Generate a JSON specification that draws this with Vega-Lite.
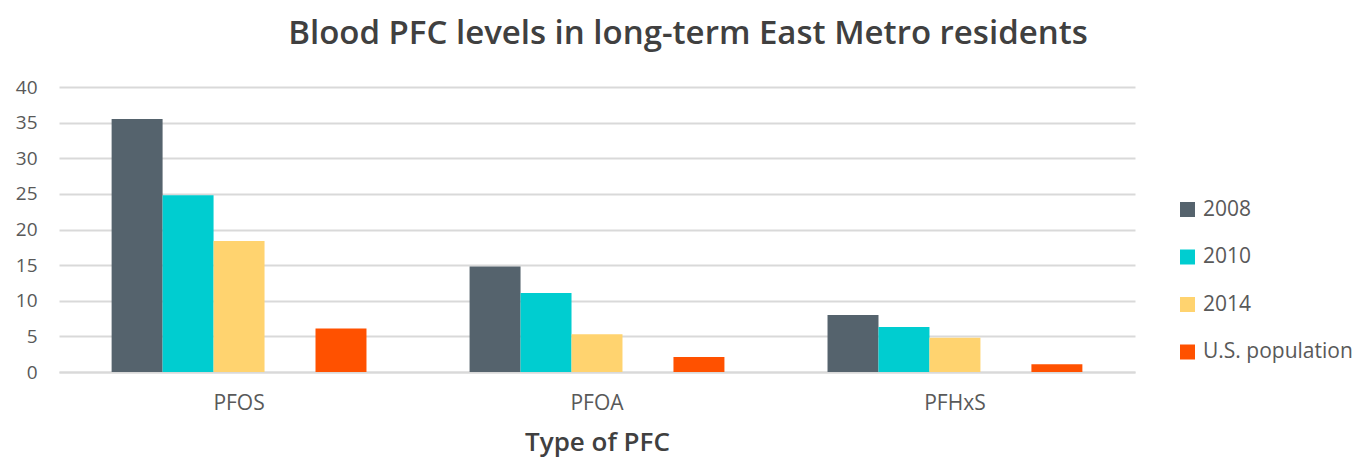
{
  "$schema": "https://vega.github.io/schema/vega-lite/v6.json",
  "autosize": {"type": "none"},
  "width": 1076,
  "height": 285,
  "padding": {"left": 59, "top": 87, "right": 221, "bottom": 85},
  "background": "#ffffff",
  "title": {
    "text": "Blood PFC levels in long-term East Metro residents",
    "anchor": "middle",
    "frame": "group",
    "dx": 91,
    "baseline": "alphabetic",
    "offset": 1,
    "font": "Open Sans",
    "fontSize": 33,
    "fontWeight": 600,
    "color": "#404040"
  },
  "data": {
    "values": [
      {"pfc": "PFOS", "group": "2008", "value": 35.5},
      {"pfc": "PFOS", "group": "2010", "value": 24.8},
      {"pfc": "PFOS", "group": "2014", "value": 18.4},
      {"pfc": "PFOS", "group": "U.S. population", "value": 6.1},
      {"pfc": "PFOA", "group": "2008", "value": 14.8},
      {"pfc": "PFOA", "group": "2010", "value": 11.1},
      {"pfc": "PFOA", "group": "2014", "value": 5.3},
      {"pfc": "PFOA", "group": "U.S. population", "value": 2.1},
      {"pfc": "PFHxS", "group": "2008", "value": 8.0},
      {"pfc": "PFHxS", "group": "2010", "value": 6.3},
      {"pfc": "PFHxS", "group": "2014", "value": 4.8},
      {"pfc": "PFHxS", "group": "U.S. population", "value": 1.1}
    ]
  },
  "mark": {"type": "bar"},
  "encoding": {
    "x": {
      "field": "pfc",
      "type": "nominal",
      "sort": ["PFOS", "PFOA", "PFHxS"],
      "scale": {"paddingInner": 0.288, "paddingOuter": 0.147},
      "axis": {
        "title": "Type of PFC",
        "labelAngle": 0,
        "labelFont": "Open Sans",
        "labelFontSize": 21,
        "labelColor": "#595959",
        "labelPadding": 20,
        "titleFont": "Open Sans",
        "titleFontSize": 26,
        "titleFontWeight": 600,
        "titleColor": "#404040",
        "titlePadding": 16,
        "domain": true,
        "domainColor": "#d9d9d9",
        "domainWidth": 2,
        "ticks": false,
        "grid": false
      }
    },
    "xOffset": {
      "field": "group",
      "type": "nominal",
      "scale": {
        "domain": ["2008", "2010", "2014", " ", "U.S. population"],
        "paddingInner": 0,
        "paddingOuter": 0
      }
    },
    "y": {
      "field": "value",
      "type": "quantitative",
      "scale": {"domain": [0, 40], "nice": false},
      "axis": {
        "title": null,
        "values": [0, 5, 10, 15, 20, 25, 30, 35, 40],
        "labelFont": "Open Sans",
        "labelFontSize": 19,
        "labelColor": "#595959",
        "labelPadding": 22,
        "domain": false,
        "ticks": false,
        "grid": true,
        "gridColor": "#d9d9d9",
        "gridWidth": 2
      }
    },
    "color": {
      "field": "group",
      "type": "nominal",
      "scale": {
        "domain": ["2008", "2010", "2014", "U.S. population"],
        "range": ["#55636d", "#00cdd0", "#ffd36f", "#ff5100"]
      },
      "legend": {
        "title": null,
        "orient": "none",
        "legendX": 1118,
        "legendY": 112,
        "symbolType": "square",
        "symbolSize": 225,
        "symbolStrokeWidth": 0,
        "symbolOpacity": 1,
        "labelFont": "Open Sans",
        "labelFontSize": 21,
        "labelColor": "#595959",
        "labelOffset": 5,
        "rowPadding": 25.5
      }
    }
  },
  "config": {
    "view": {"stroke": null}
  }
}
